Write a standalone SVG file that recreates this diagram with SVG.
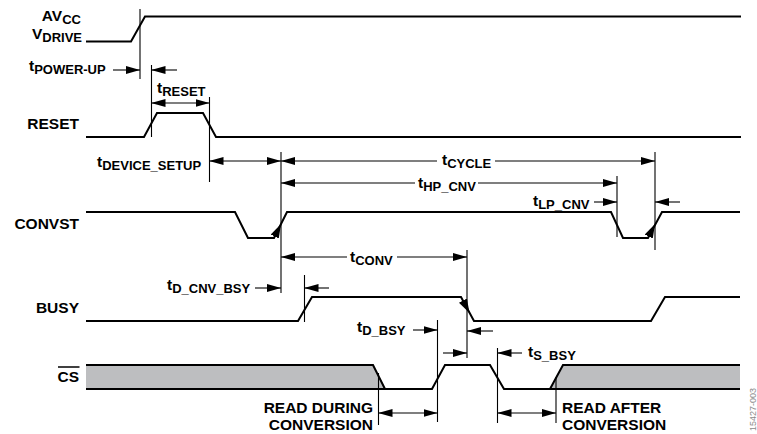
<svg xmlns="http://www.w3.org/2000/svg" width="757" height="434" viewBox="0 0 757 434">
<style>
.sig{fill:none;stroke:#000;stroke-width:2;stroke-linejoin:miter}
.dim{fill:none;stroke:#000;stroke-width:1.1}
.arr{fill:none;stroke:#000;stroke-width:1.1;marker-end:url(#ah)}
.arr2{fill:none;stroke:#000;stroke-width:1.1;marker-end:url(#ah);marker-start:url(#ah)}
.arrs{fill:none;stroke:#000;stroke-width:1.1;marker-start:url(#ah)}
.edge{fill:none;stroke:none;marker-end:url(#ae)}
.gray{fill:#bdbec0;stroke:none}
text{font-family:"Liberation Sans",Arial,Helvetica,sans-serif;font-weight:bold;font-size:15.5px;fill:#000}
.sub{font-size:13px}
.wm{font-size:9px;font-weight:normal;fill:#8a8a8a}
</style>
<defs>
<marker id="ah" markerUnits="userSpaceOnUse" markerWidth="14" markerHeight="8" refX="14" refY="4" orient="auto-start-reverse"><path d="M0,0 L14,4 L0,8 Z" fill="#000"/></marker>
<marker id="ae" markerUnits="userSpaceOnUse" markerWidth="14" markerHeight="10" refX="14" refY="5" orient="auto"><path d="M0,0.5 L14,5 L0,9.5 Z" fill="#000"/></marker>
</defs>
<rect width="757" height="434" fill="#fff"/>

<g id="sig-avcc">
<text x="81" y="21" text-anchor="end">AV<tspan class="sub" dy="3">CC</tspan></text>
<text x="82" y="39" text-anchor="end">V<tspan class="sub" dy="3">DRIVE</tspan></text>
<path class="sig" d="M86,41.5 L131,41.5 L145,16.5 L741,16.5"/>
</g>

<g id="sig-reset">
<text x="79" y="129" text-anchor="end">RESET</text>
<path class="sig" d="M86,137 L144,137 L157,113 L203,113 L216,137 L741,137"/>
</g>

<g id="sig-convst">
<text x="79" y="229" text-anchor="end">CONVST</text>
<path class="sig" d="M86,212 L235,212 L248,238 L274,238 L287,212 L611,212 L623,238 L648,238 L662,212 L740,212"/>
</g>

<g id="sig-busy">
<text x="79" y="313" text-anchor="end">BUSY</text>
<path class="sig" d="M86,321 L298,321 L312,297 L461,297 L474,321 L651,321 L665,297 L740,297"/>
</g>

<g id="sig-cs">
<text x="79" y="382" text-anchor="end">CS</text>
<line x1="58" y1="367" x2="79.5" y2="367" stroke="#000" stroke-width="1.5"/>
<path class="gray" d="M86,365 L373,365 L385,389 L86,389 Z"/>
<path class="gray" d="M550,389 L563,365 L740,365 L740,389 Z"/>
<path class="sig" d="M86,365 L373,365 L385,389"/>
<path class="sig" d="M86,389 L432,389 L445,365 L490,365 L504,389 L740,389"/>
<path class="sig" d="M550,389 L563,365 L740,365"/>
</g>

<g id="labels">
<text x="29" y="71">t<tspan class="sub" dy="3">POWER-UP</tspan></text>
<text x="157" y="93">t<tspan class="sub" dy="3">RESET</tspan></text>
<text x="97" y="167">t<tspan class="sub" dy="3">DEVICE_SETUP</tspan></text>
<text x="442" y="164.5">t<tspan class="sub" dy="3">CYCLE</tspan></text>
<text x="418" y="188">t<tspan class="sub" dy="3">HP_CNV</tspan></text>
<text x="533" y="206">t<tspan class="sub" dy="3">LP_CNV</tspan></text>
<text x="350" y="261.5">t<tspan class="sub" dy="3">CONV</tspan></text>
<text x="167" y="290">t<tspan class="sub" dy="3">D_CNV_BSY</tspan></text>
<text x="357" y="332">t<tspan class="sub" dy="3">D_BSY</tspan></text>
<text x="528" y="357">t<tspan class="sub" dy="2.5">S_BSY</tspan></text>
<text x="373" y="413" text-anchor="end">READ DURING</text>
<text x="373" y="430" text-anchor="end">CONVERSION</text>
<text x="562" y="413">READ AFTER</text>
<text x="562" y="430">CONVERSION</text>
<text class="wm" transform="translate(756,431) rotate(-90)">15427-003</text>
</g>

<g id="connectors">
<path class="dim" d="M140,9 V79 M151.5,65 V137 M209.5,97 V182 M281,152 V293 M617,176 V237 M655,152 V250 M304.5,275 V322 M467,250 V358 M437.5,320 V422 M497.5,348 V423 M378.5,373 V425 M556,377 V423"/>
<path class="arr" d="M113,70 L140,70"/>
<path class="arr" d="M177,70 L151.5,70"/>
<path class="arr2" d="M151.5,103 L209.5,103"/>
<path class="arr2" d="M209.5,161 L281,161"/>
<path class="arrs" d="M281,161 L437,161"/>
<path class="arr" d="M495,161 L655,161"/>
<path class="arrs" d="M281,183 L415,183"/>
<path class="arr" d="M478,183 L617,183"/>
<path class="arr" d="M594,202 L617,202"/>
<path class="arr" d="M680,202 L655,202"/>
<path class="arrs" d="M281,257 L347,257"/>
<path class="arr" d="M397,257 L467,257"/>
<path class="arr" d="M255,288 L281,288"/>
<path class="arr" d="M329,288 L304.5,288"/>
<path class="arr" d="M413,330 L437.5,330"/>
<path class="arr" d="M493,331 L467,331"/>
<path class="arr" d="M443,353 L467,353"/>
<path class="arr" d="M522,353 L497.5,353"/>
<path class="arr2" d="M378.5,413 L437.5,413"/>
<path class="arr2" d="M497.5,413 L556,413"/>
<path class="edge" d="M274,238 L281,224"/>
<path class="edge" d="M648,238 L655,224"/>
<path class="edge" d="M461,297 L469.5,313"/>
</g>
</svg>
